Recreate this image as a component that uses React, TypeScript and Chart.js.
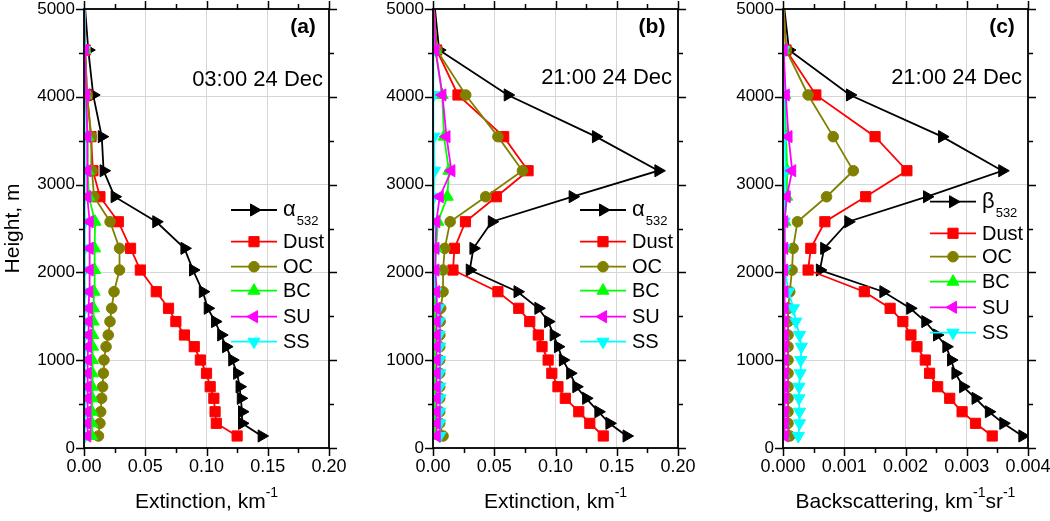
import React, { useEffect, useRef } from 'react';
import { Chart, registerables } from 'chart.js';

Chart.register(...registerables);

const FONT = '"Liberation Sans", Arial, Helvetica, sans-serif';

// ---------- data ----------
const heights = [137, 281, 413, 566, 698, 851, 1002, 1154, 1287, 1440, 1591, 1780, 2027, 2274, 2577, 2862, 3158, 3546, 4021, 4533, 5080];

const seriesNames = ['α', 'Dust', 'OC', 'BC', 'SU', 'SS'];

// Panel (a) 03:00 24 Dec, extinction km^-1
const aAlpha = [0.145, 0.129, 0.129, 0.128, 0.127, 0.125, 0.121, 0.116, 0.112, 0.107, 0.101, 0.097, 0.089, 0.082, 0.059, 0.025, 0.016, 0.0145, 0.0075, 0.0035, 0.0005];
const aDust = [0.125, 0.108, 0.107, 0.106, 0.103, 0.100, 0.095, 0.090, 0.082, 0.075, 0.069, 0.059, 0.046, 0.038, 0.028, 0.013, 0.0073, 0.0057, 0.0025, 0.001, 0.0002];
const aOC = [0.0118, 0.013, 0.0136, 0.0144, 0.0152, 0.0158, 0.0163, 0.018, 0.0198, 0.0212, 0.0226, 0.0245, 0.029, 0.029, 0.0213, 0.0082, 0.0065, 0.006, 0.0025, 0.001, 0.0002];
const aBC = [0.0063, 0.0065, 0.0065, 0.0066, 0.0067, 0.0068, 0.0069, 0.0070, 0.0072, 0.0075, 0.0078, 0.0082, 0.0087, 0.0087, 0.0090, 0.0040, 0.0030, 0.0030, 0.0015, 0.0008, 0.0002];
const aSU = [0.0027, 0.0028, 0.0028, 0.0030, 0.0030, 0.0030, 0.0032, 0.0033, 0.0035, 0.0037, 0.0040, 0.0043, 0.0046, 0.0046, 0.0046, 0.0027, 0.0027, 0.0027, 0.0018, 0.0008, 0.0002];
const aSS = [0.0008, 0.0008, 0.0008, 0.0008, 0.0008, 0.0008, 0.0008, 0.0008, 0.0007, 0.0007, 0.0007, 0.0007, 0.0006, 0.0006, 0.0006, 0.0005, 0.0005, 0.0005, 0.0004, 0.0003, 0.0001];

// Panel (b) 21:00 24 Dec, extinction km^-1
const bAlpha = [0.158, 0.144, 0.135, 0.125, 0.117, 0.112, 0.106, 0.102, 0.0985, 0.094, 0.086, 0.069, 0.030, 0.033, 0.048, 0.114, 0.184, 0.133, 0.061, 0.005, 0.001];
const bDust = [0.139, 0.128, 0.119, 0.108, 0.102, 0.097, 0.094, 0.089, 0.086, 0.079, 0.070, 0.053, 0.0163, 0.0175, 0.0265, 0.0517, 0.0776, 0.0577, 0.0204, 0.003, 0.0005];
const bOC = [0.0082, 0.0055, 0.0055, 0.0055, 0.0055, 0.0055, 0.0055, 0.0055, 0.0056, 0.0058, 0.0063, 0.0082, 0.0082, 0.0096, 0.0140, 0.0430, 0.0730, 0.0530, 0.0267, 0.0030, 0.0005];
const bBC = [0.0014, 0.0014, 0.0014, 0.0014, 0.0014, 0.0014, 0.0014, 0.0014, 0.0014, 0.0015, 0.0015, 0.0015, 0.0016, 0.0025, 0.0040, 0.0117, 0.0130, 0.0090, 0.0075, 0.0020, 0.0004];
const bSU = [0.0030, 0.0030, 0.0030, 0.0030, 0.0030, 0.0030, 0.0030, 0.0030, 0.0030, 0.0030, 0.0030, 0.0025, 0.0020, 0.0020, 0.0027, 0.0055, 0.0150, 0.0110, 0.0077, 0.0020, 0.0004];
const bSS = [0.0055, 0.0055, 0.0055, 0.0055, 0.0055, 0.0055, 0.0055, 0.0055, 0.0050, 0.0050, 0.0045, 0.0020, 0.0005, 0.0005, 0.0005, 0.0006, 0.0012, 0.0008, 0.0005, 0.0003, 0.0001];

// Panel (c) 21:00 24 Dec, backscattering km^-1 sr^-1
const cBeta = [0.003908, 0.003597, 0.003361, 0.003143, 0.002941, 0.002815, 0.002744, 0.002667, 0.002515, 0.002323, 0.002077, 0.001639, 0.000602, 0.000672, 0.001066, 0.002351, 0.003580, 0.002597, 0.001093, 0.000098, 0.000010];
const cDust = [0.003416, 0.003143, 0.002924, 0.002722, 0.002525, 0.002393, 0.002323, 0.002187, 0.002089, 0.001957, 0.001749, 0.001328, 0.000410, 0.000454, 0.000684, 0.001350, 0.002023, 0.001503, 0.000536, 0.000050, 0.000005];
const cOC = [0.000110, 0.000082, 0.000082, 0.000082, 0.000082, 0.000082, 0.000082, 0.000082, 0.000082, 0.000082, 0.000090, 0.000110, 0.000148, 0.000164, 0.000236, 0.000711, 0.001148, 0.000820, 0.000410, 0.000050, 0.000005];
const cBC = [0.000015, 0.000015, 0.000015, 0.000015, 0.000015, 0.000015, 0.000015, 0.000015, 0.000015, 0.000015, 0.000016, 0.000018, 0.000020, 0.000025, 0.000030, 0.000060, 0.000070, 0.000050, 0.000030, 0.000010, 0.000002];
const cSU = [0.000028, 0.000028, 0.000028, 0.000028, 0.000028, 0.000028, 0.000028, 0.000028, 0.000028, 0.000028, 0.000026, 0.000024, 0.000020, 0.000020, 0.000020, 0.000060, 0.000150, 0.000090, 0.000045, 0.000010, 0.000002];
const cSS = [0.000250, 0.000270, 0.000270, 0.000260, 0.000260, 0.000280, 0.000290, 0.000300, 0.000270, 0.000210, 0.000170, 0.000090, 0.000030, 0.000020, 0.000020, 0.000030, 0.000040, 0.000030, 0.000020, 0.000010, 0.000002];

// ticks
const heightTicks = [0, 500, 1000, 1500, 2000, 2500, 3000, 3500, 4000, 4500, 5000];
const heightLabels = ['0', '', '1000', '', '2000', '', '3000', '', '4000', '', '5000'];
const extTicks = [0, 0.025, 0.05, 0.075, 0.1, 0.125, 0.15, 0.175, 0.2];
const extLabels = ['0.00', '', '0.05', '', '0.10', '', '0.15', '', '0.20'];
const bscTicks = [0, 0.0005, 0.001, 0.0015, 0.002, 0.0025, 0.003, 0.0035, 0.004];
const bscLabels = ['0.000', '', '0.001', '', '0.002', '', '0.003', '', '0.004'];

// ---------- styles ----------
const seriesColors = ['#000000', '#ff0000', '#808000', '#00ff00', '#ff00ff', '#00ffff'];
const seriesShapes = ['triangle', 'rect', 'circle', 'triangle', 'triangle', 'triangle'];
const seriesRot = [90, 0, 0, 0, 270, 180];
const seriesRadius = [7, 7.2, 5.3, 7, 7, 7];
const seriesOrder = [6, 5, 4, 3, 1, 2];

type Part = [string, 'n' | 's'];

type PanelProps = {
  left: number;
  width: number;
  values: number[][];
  xTicks: number[];
  xLabels: string[];
  xMax: number;
  tag: string;
  time: string;
  firstName: string;
  xTitle: Part[];
  legendRows: number[];
  showYTitle: boolean;
};

function drawMarker(ctx: CanvasRenderingContext2D, shape: string, rot: number, r: number, x: number, y: number, color: string) {
  ctx.save();
  ctx.fillStyle = color;
  ctx.strokeStyle = color;
  ctx.lineWidth = 1;
  ctx.beginPath();
  if (shape === 'circle') {
    ctx.arc(x, y, r, 0, Math.PI * 2);
  } else if (shape === 'rect') {
    const s = r * Math.SQRT1_2;
    ctx.rect(x - s, y - s, 2 * s, 2 * s);
  } else {
    let rad = (rot * Math.PI) / 180;
    for (let k = 0; k < 3; k++) {
      const px = x + Math.sin(rad) * r;
      const py = y - Math.cos(rad) * r;
      if (k === 0) ctx.moveTo(px, py);
      else ctx.lineTo(px, py);
      rad += (2 * Math.PI) / 3;
    }
    ctx.closePath();
  }
  ctx.fill();
  ctx.stroke();
  ctx.restore();
}

function Panel(p: PanelProps) {
  const ref = useRef<HTMLCanvasElement>(null);
  useEffect(() => {
    const canvas = ref.current!;
    const datasets = p.values.map((vals, i) => ({
      label: i === 0 ? p.firstName : seriesNames[i],
      data: vals.map((v, j) => ({ x: v, y: heights[j] })),
      borderColor: seriesColors[i],
      backgroundColor: seriesColors[i],
      borderWidth: 1.8,
      pointStyle: seriesShapes[i],
      pointRotation: seriesRot[i],
      pointRadius: seriesRadius[i],
      pointBackgroundColor: seriesColors[i],
      pointBorderColor: seriesColors[i],
      pointBorderWidth: 1,
      tension: 0,
      fill: false,
      order: seriesOrder[i],
    }));

    const decor = {
      id: 'decor' + p.tag,
      afterDraw(chart: any) {
        const ctx: CanvasRenderingContext2D = chart.ctx;
        const { left, right, top, bottom } = chart.chartArea;
        const xs = chart.scales.x;
        const ys = chart.scales.y;
        ctx.save();
        // ticks
        ctx.strokeStyle = '#000';
        ctx.lineWidth = 1.5;
        ctx.beginPath();
        p.xTicks.forEach((v, i) => {
          const px = Math.round(xs.getPixelForValue(v)) + 0.5;
          const len = p.xLabels[i] ? 8 : 5;
          ctx.moveTo(px, bottom);
          ctx.lineTo(px, bottom + len);
          ctx.moveTo(px, top);
          ctx.lineTo(px, top - len);
        });
        heightTicks.forEach((v, i) => {
          const py = Math.round(ys.getPixelForValue(v)) + 0.5;
          const len = heightLabels[i] ? 8 : 5;
          ctx.moveTo(left, py);
          ctx.lineTo(left - len, py);
          ctx.moveTo(right, py);
          ctx.lineTo(right + len, py);
        });
        ctx.stroke();
        // frame
        ctx.lineWidth = 1.8;
        ctx.strokeRect(left, top, right - left, bottom - top);

        // panel tag + time
        ctx.fillStyle = '#000';
        ctx.textBaseline = 'middle';
        ctx.textAlign = 'center';
        ctx.font = 'bold 21px ' + FONT;
        ctx.fillText(p.tag, right - 26, 27);
        ctx.textAlign = 'right';
        ctx.font = '22px ' + FONT;
        ctx.fillText(p.time, right - 6, p.tag === '(a)' ? 80 : 78);

        // legend
        const lx0 = left + 147;
        const lx1 = left + 193;
        p.legendRows.forEach((ry, i) => {
          const y = top + ry;
          ctx.strokeStyle = seriesColors[i];
          ctx.lineWidth = 1.8;
          ctx.beginPath();
          ctx.moveTo(lx0, y);
          ctx.lineTo(lx1, y);
          ctx.stroke();
          drawMarker(ctx, seriesShapes[i], seriesRot[i], seriesRadius[i], (lx0 + lx1) / 2, y, seriesColors[i]);
          ctx.fillStyle = '#000';
          ctx.textAlign = 'left';
          if (i === 0) {
            ctx.textBaseline = 'alphabetic';
            ctx.font = '22px ' + FONT;
            ctx.fillText(p.firstName, lx1 + 6, y + 6);
            const w = ctx.measureText(p.firstName).width;
            ctx.font = '13px ' + FONT;
            ctx.fillText('532', lx1 + 6 + w + 1, y + 15);
          } else {
            ctx.textBaseline = 'middle';
            ctx.font = '20px ' + FONT;
            ctx.fillText(seriesNames[i], lx1 + 6, y + 1);
          }
        });

        // x title
        ctx.textBaseline = 'alphabetic';
        ctx.textAlign = 'left';
        const fontN = '21px ' + FONT;
        const fontS = '14px ' + FONT;
        let total = 0;
        p.xTitle.forEach(([t, k]) => {
          ctx.font = k === 'n' ? fontN : fontS;
          total += ctx.measureText(t).width;
        });
        let cx = (left + right) / 2 - total / 2;
        const baseY = 508;
        p.xTitle.forEach(([t, k]) => {
          ctx.font = k === 'n' ? fontN : fontS;
          ctx.fillText(t, cx, k === 'n' ? baseY : baseY - 11);
          cx += ctx.measureText(t).width;
        });

        // y title
        if (p.showYTitle) {
          ctx.save();
          ctx.translate(13, (top + bottom) / 2);
          ctx.rotate(-Math.PI / 2);
          ctx.textAlign = 'center';
          ctx.textBaseline = 'middle';
          ctx.font = '21px ' + FONT;
          ctx.fillText('Height, m', 0, 0);
          ctx.restore();
        }
        ctx.restore();
      },
    };

    const chart = new Chart(canvas, {
      type: 'line',
      data: { datasets } as any,
      options: {
        animation: false,
        responsive: false,
        maintainAspectRatio: false,
        devicePixelRatio: 1,
        events: [],
        layout: { padding: { left: 0, right: p.width - 329, top: 9, bottom: 0 } },
        plugins: { legend: { display: false }, tooltip: { enabled: false } },
        scales: {
          x: {
            type: 'linear',
            min: 0,
            max: p.xMax,
            afterBuildTicks: (s: any) => {
              s.ticks = p.xTicks.map((v) => ({ value: v }));
            },
            afterFit: (s: any) => {
              s.height = 73;
              s.paddingLeft = 0;
              s.paddingRight = 0;
            },
            ticks: {
              autoSkip: false,
              maxRotation: 0,
              minRotation: 0,
              padding: 8,
              color: '#000',
              font: { family: FONT, size: 18 },
              callback: (_v: any, i: number) => p.xLabels[i],
            },
            grid: {
              drawTicks: false,
              lineWidth: 1,
              color: (c: any) => (p.xLabels[c.index] ? '#d6d6d6' : 'rgba(0,0,0,0)'),
            },
            border: { display: false },
          },
          y: {
            type: 'linear',
            min: 0,
            max: 5000,
            afterBuildTicks: (s: any) => {
              s.ticks = heightTicks.map((v) => ({ value: v }));
            },
            afterFit: (s: any) => {
              s.width = 84;
              s.paddingTop = 0;
              s.paddingBottom = 0;
            },
            ticks: {
              autoSkip: false,
              padding: 9,
              color: '#000',
              font: { family: FONT, size: 17 },
              callback: (_v: any, i: number) => heightLabels[i],
            },
            grid: {
              drawTicks: false,
              lineWidth: 1,
              color: (c: any) => (heightLabels[c.index] ? '#d6d6d6' : 'rgba(0,0,0,0)'),
            },
            border: { display: false },
          },
        },
      } as any,
      plugins: [decor],
    });
    return () => chart.destroy();
  }, []);
  return (
    <canvas
      ref={ref}
      width={p.width}
      height={521}
      style={{ position: 'absolute', left: p.left, top: 0, width: p.width, height: 521 }}
    />
  );
}

export default function App() {
  const abRows = [201, 232.7, 257.7, 281.7, 307.7, 332.7];
  const cRows = [192.7, 224.3, 247.7, 272.7, 298.3, 323.7];
  return (
    <div style={{ position: 'fixed', left: 0, top: 0, width: 1050, height: 521, background: '#fff', overflow: 'hidden' }}>
      <Panel
        left={0}
        width={350}
        values={[aAlpha, aDust, aOC, aBC, aSU, aSS]}
        xTicks={extTicks}
        xLabels={extLabels}
        xMax={0.2}
        tag="(a)"
        time="03:00 24 Dec"
        firstName="α"
        xTitle={[['Extinction, km', 'n'], ['-1', 's']]}
        legendRows={abRows}
        showYTitle={true}
      />
      <Panel
        left={349}
        width={350}
        values={[bAlpha, bDust, bOC, bBC, bSU, bSS]}
        xTicks={extTicks}
        xLabels={extLabels}
        xMax={0.2}
        tag="(b)"
        time="21:00 24 Dec"
        firstName="α"
        xTitle={[['Extinction, km', 'n'], ['-1', 's']]}
        legendRows={abRows}
        showYTitle={false}
      />
      <Panel
        left={699}
        width={351}
        values={[cBeta, cDust, cOC, cBC, cSU, cSS]}
        xTicks={bscTicks}
        xLabels={bscLabels}
        xMax={0.004}
        tag="(c)"
        time="21:00 24 Dec"
        firstName="β"
        xTitle={[['Backscattering, km', 'n'], ['-1', 's'], ['sr', 'n'], ['-1', 's']]}
        legendRows={cRows}
        showYTitle={false}
      />
    </div>
  );
}
